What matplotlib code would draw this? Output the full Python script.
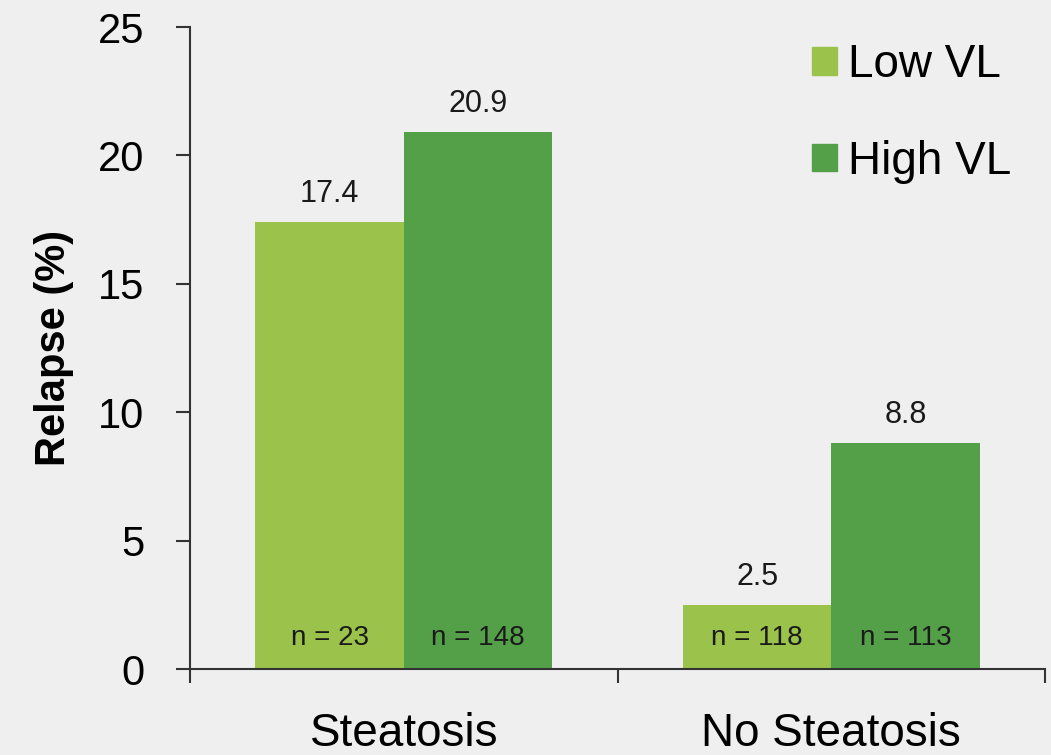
import numpy as np
import matplotlib
matplotlib.use("Agg")
import matplotlib.pyplot as plt
from matplotlib.patches import Patch

plt.rcParams['font.family'] = ['Liberation Sans', 'DejaVu Sans']

groups = ['Steatosis', 'No Steatosis']
low_vl = [17.4, 2.5]
high_vl = [20.9, 8.8]
low_n = [23, 118]
high_n = [148, 113]

bg = '#efefef'
c_low = '#9bc34b'
c_high = '#54a049'

fig = plt.figure(figsize=(10.51, 7.55), dpi=100, facecolor=bg)
ax = fig.add_axes([0.1808, 0.1139, 0.8135, 0.8503], facecolor=bg)

x = np.arange(len(groups))
w = 0.347
b1 = ax.bar(x - w / 2, low_vl, w, color=c_low, label='Low VL')
b2 = ax.bar(x + w / 2, high_vl, w, color=c_high, label='High VL')

# value on top, n inside at the base
for bars, vals, ns in [(b1, low_vl, low_n), (b2, high_vl, high_n)]:
    for r, v, n in zip(bars, vals, ns):
        cx = r.get_x() + r.get_width() / 2
        ax.text(cx, v + 0.5, f'{v}', ha='center', va='bottom', fontsize=22, color='#1a1a1a')
        ax.text(cx, 1.2, f'n = {n}', ha='center', va='center', fontsize=20, color='#1a1a1a')

ax.set_xlim(-0.5, 1.5)
ax.set_ylim(0, 25)
ax.set_yticks([0, 5, 10, 15, 20, 25])
ax.set_xticks(x)
ax.set_xticklabels(groups, fontsize=33)
ax.set_xticks([-0.5, 0.5, 1.5], minor=True)
ax.tick_params(axis='x', which='major', length=0, pad=31)
ax.tick_params(axis='x', which='minor', length=10, width=1.5, color='#333333')
ax.tick_params(axis='y', length=10, width=1.5, color='#333333', labelsize=30, pad=23)
ax.set_ylabel('Relapse (%)', fontsize=30, fontweight='bold', labelpad=17)

for s in ['top', 'right']:
    ax.spines[s].set_visible(False)
for s in ['left', 'bottom']:
    ax.spines[s].set_linewidth(1.5)
    ax.spines[s].set_color('#333333')

handles = [Patch(color=c_low), Patch(color=c_high)]
leg = ax.legend(handles, ['Low VL', 'High VL'], loc='upper left',
                bbox_to_anchor=(0.727, 0.975), frameon=False, fontsize=33,
                handlelength=0.55, handleheight=0.55, handletextpad=0.25,
                labelspacing=1.15, borderpad=0, borderaxespad=0)

fig.savefig('out.png', dpi=100, facecolor=bg)
